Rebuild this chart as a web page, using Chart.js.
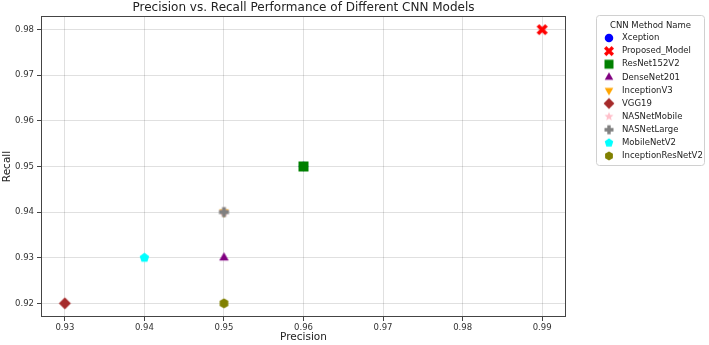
<!DOCTYPE html>
<html><head><meta charset="utf-8">
<script src="https://cdn.jsdelivr.net/npm/chart.js@4/dist/chart.umd.min.js"></script>
<style>html,body{margin:0;padding:0;background:#fff}#wrap{width:709px;height:345px}</style>
</head><body><div id="wrap"><canvas id="c" width="709" height="345"></canvas></div>
<script>
const models = ['Xception','Proposed_Model','ResNet152V2','DenseNet201','InceptionV3','VGG19','NASNetMobile','NASNetLarge','MobileNetV2','InceptionResNetV2'];
const precision = [0.96, 0.99, 0.96, 0.95, 0.95, 0.93, 0.95, 0.95, 0.94, 0.95];
const recall    = [0.95, 0.98, 0.95, 0.93, 0.94, 0.92, 0.94, 0.94, 0.93, 0.92];
const xTicks = [0.93, 0.94, 0.95, 0.96, 0.97, 0.98, 0.99];
const yTicks = [0.92, 0.93, 0.94, 0.95, 0.96, 0.97, 0.98];
const colors = ['#0000ff','#ff0000','#008000','#800080','#ffa500','#a52a2a','#ffc0cb','#808080','#00ffff','#808000'];
const shapes = ['circle','xthick','square','triUp','triDown','diamond','star','plus','pentagon','hexagon'];
const FONT = 'DejaVu Sans';

function marker(shape, color, S){
  const c = document.createElement('canvas');
  const W = Math.ceil(S*1.5)+2; c.width = W; c.height = W;
  const g = c.getContext('2d'); const m = W/2; const r = S/2;
  g.fillStyle = color; g.strokeStyle = color; g.lineWidth = 1;
  g.beginPath();
  const poly = (n, rad, rot) => { for(let i=0;i<n;i++){const a=rot+i*2*Math.PI/n; const x=m+rad*Math.cos(a), y=m+rad*Math.sin(a); i?g.lineTo(x,y):g.moveTo(x,y);} g.closePath(); };
  if(shape==='circle'){ g.arc(m,m,r*0.95,0,2*Math.PI); }
  else if(shape==='square'){ const h=r; g.rect(m-h,m-h,2*h,2*h); }
  else if(shape==='triUp'){ poly(3, r*1.1, -Math.PI/2); }
  else if(shape==='triDown'){ poly(3, r*1.1, Math.PI/2); }
  else if(shape==='diamond'){ poly(4, r*1.2, -Math.PI/2); }
  else if(shape==='pentagon'){ poly(5, r, -Math.PI/2); }
  else if(shape==='hexagon'){ poly(6, r, -Math.PI/2); }
  else if(shape==='star'){ for(let i=0;i<10;i++){const a=-Math.PI/2+i*Math.PI/5; const rr=i%2?r*0.45:r*1.05; const x=m+rr*Math.cos(a), y=m+rr*Math.sin(a); i?g.lineTo(x,y):g.moveTo(x,y);} g.closePath(); }
  else if(shape==='plus' || shape==='xthick'){
    g.save(); g.translate(m,m); if(shape==='xthick') g.rotate(Math.PI/4);
    const L = shape==='xthick'? r*1.2 : r, w = r*0.38;
    g.beginPath(); g.rect(-L,-w,2*L,2*w); g.rect(-w,-L,2*w,2*L); g.fill(); g.restore();
    return c;
  }
  g.fill();
  return c;
}

const pointImgs = shapes.map((s,i)=>marker(s, colors[i], 10));
const legendImgs = shapes.map((s,i)=>marker(s, colors[i], 9));

const datasets = models.map((name,i)=>({
  label: name,
  data: [{x: precision[i], y: recall[i]}],
  pointStyle: pointImgs[i],
  backgroundColor: colors[i],
  borderColor: colors[i],
  pointRadius: 6,
  order: models.length - i
}));

const decor = {
  id: 'decor',
  beforeDatasetsDraw(chart){
    const {ctx, chartArea:a} = chart;
    ctx.save(); ctx.strokeStyle = '#444'; ctx.lineWidth = 1;
    ctx.strokeRect(Math.round(a.left)+0.5, Math.round(a.top)+0.5, Math.round(a.right-a.left)-1, Math.round(a.bottom-a.top)-1);
    ctx.restore();
  },
  afterDraw(chart){
    const {ctx, chartArea:a} = chart;
    ctx.save();
    ctx.fillStyle = '#222'; ctx.font = '12px "'+FONT+'"'; ctx.textAlign='center'; ctx.textBaseline='middle';
    ctx.fillText('Precision vs. Recall Performance of Different CNN Models', (a.left+a.right)/2, 8);
    const bx=596.5, by=15.5, bw=108, bh=150;
    ctx.strokeStyle='#d0d0d0'; ctx.lineWidth=1; ctx.beginPath();
    ctx.roundRect ? ctx.roundRect(bx,by,bw,bh,3) : ctx.rect(bx,by,bw,bh); ctx.stroke();
    ctx.fillStyle='#222'; ctx.font='8.5px "'+FONT+'"'; ctx.textAlign='center';
    ctx.fillText('CNN Method Name', bx+bw/2, 26);
    ctx.textAlign='left';
    chart.data.datasets.forEach((d,i)=>{
      const y = 38 + i*13.1;
      const img = legendImgs[i];
      ctx.drawImage(img, 609-img.width/2, y-img.height/2);
      ctx.fillText(d.label, 622, y);
    });
    ctx.restore();
  }
};

new Chart(document.getElementById('c'), {
  type: 'scatter',
  data: { datasets },
  options: {
    responsive: false, animation: false,
    layout: { padding: { top: 16, right: 143, left: 0, bottom: 0 } },
    plugins: { legend: { display: false }, title: { display: false }, tooltip: { enabled: false } },
    scales: {
      x: {
        min: 0.927, max: 0.993,
        afterBuildTicks: s => { s.ticks = xTicks.map(v=>({value:v})); },
        afterFit: s => { s.height = 28; },
        ticks: { callback: v => Number(v).toFixed(2), color:'#333', font:{family:FONT,size:8.5}, padding: 2, maxRotation:0, autoSkip:false },
        grid: { color:'rgba(0,0,0,0.12)', tickColor:'#444', tickLength:4 },
        border: { display:false },
        title: { display:true, text:'Precision', color:'#222', font:{family:FONT,size:10.5}, padding:{top:0,bottom:1} }
      },
      y: {
        min: 0.917, max: 0.983,
        afterBuildTicks: s => { s.ticks = yTicks.map(v=>({value:v})); },
        afterFit: s => { s.width = 41; },
        ticks: { callback: v => Number(v).toFixed(2), color:'#333', font:{family:FONT,size:8.5}, padding: 3 },
        grid: { color:'rgba(0,0,0,0.12)', tickColor:'#444', tickLength:4 },
        border: { display:false },
        title: { display:true, text:'Recall', color:'#222', font:{family:FONT,size:10.5}, padding:{top:1,bottom:0} }
      }
    }
  },
  plugins: [decor]
});
</script></body></html>
